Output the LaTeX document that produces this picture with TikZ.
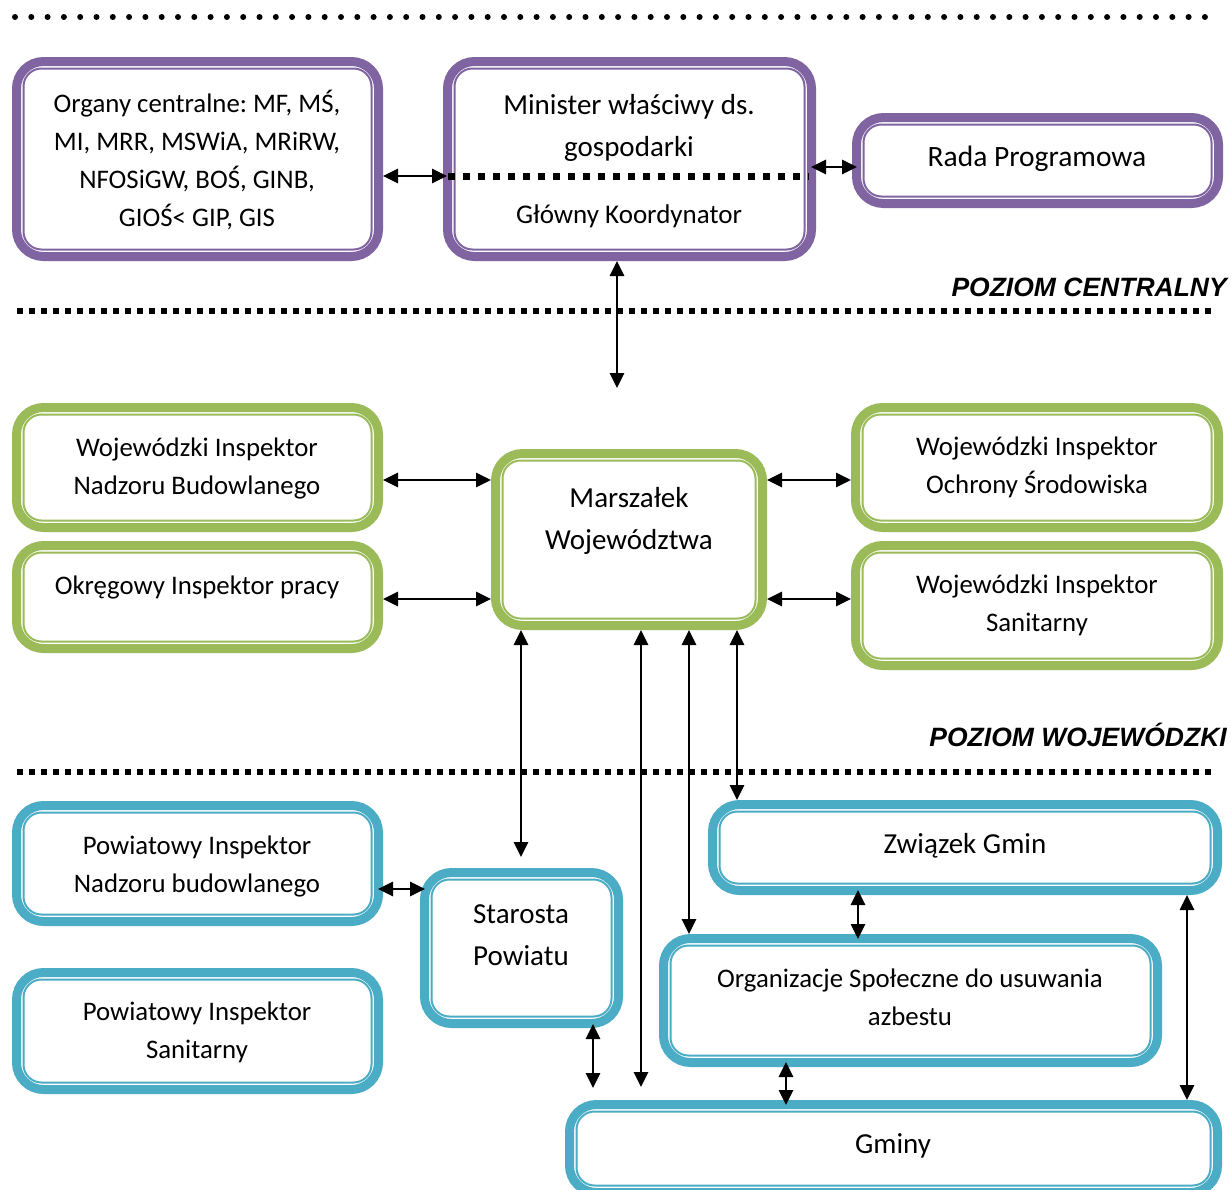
\documentclass[tikz,border=0pt]{standalone}
\usepackage{fontspec}
\setmainfont{Carlito}
\newfontfamily\hfont{Liberation Sans}
\usetikzlibrary{arrows.meta}
\definecolor{cpur}{HTML}{8064A2}
\definecolor{cgrn}{HTML}{9BBB59}
\definecolor{cblu}{HTML}{4BACC6}
\frenchspacing
\tikzset{
  bx/.style={draw=#1, line width=9pt, rounded corners=27pt, fill=white, outer sep=4.5pt, inner sep=0pt},
  inl/.style={draw=#1, line width=2pt, rounded corners=18pt},
  txt/.style={font=\fontsize{26.8}{38}\selectfont, align=center, inner sep=0pt},
  big/.style={font=\fontsize{29}{42}\selectfont, align=center, inner sep=0pt},
  lvl/.style={font=\hfont\bfseries\itshape\fontsize{26.5}{30}\selectfont, anchor=east, inner sep=0pt},
  arr/.style={line width=2.8pt, {Triangle[length=15pt,width=14pt]}-{Triangle[length=15pt,width=14pt]}},
  into/.style={shorten <=-5pt, shorten >=-5pt},
  sep/.style={line width=5.5pt, dash pattern=on 5.5pt off 6.5pt},
}
\newcommand\BX[6]{%
  \node[bx=#2, minimum width={#5-#3-9}, minimum height={#6-#4-9}] (#1) at ({(#3+#5)/2},{(#4+#6)/2}) {};
  \draw[inl=#2] ([shift={(11.5,11.5)}]#1.north west) rectangle ([shift={(-11.5,-11.5)}]#1.south east);
}
\begin{document}
\begin{tikzpicture}[x=1pt,y=-1pt]
\clip (0,0) rectangle (1231,1189);
\fill[white] (0,0) rectangle (1231,1189);
% separators
\draw[line width=6pt, line cap=round, dash pattern=on 0pt off 16.3pt] (15,17) -- (1216,17);
\draw[sep] (17,311) -- (1214,311);
\draw[sep] (17,772) -- (1214,772);
% boxes
\BX{org}{cpur}{12}{57}{383}{261}
\BX{min}{cpur}{443}{57}{816}{261}
\BX{rada}{cpur}{852}{113}{1223}{208}
\BX{winb}{cgrn}{12}{403}{383}{532}
\BX{oip}{cgrn}{12}{541}{383}{653}
\BX{marsz}{cgrn}{491}{449}{767}{630}
\BX{wios}{cgrn}{851}{403}{1223}{532}
\BX{wis}{cgrn}{851}{541}{1223}{670}
\BX{pinb}{cblu}{12}{801}{383}{926}
\BX{pis}{cblu}{12}{968}{383}{1094}
\BX{star}{cblu}{420}{868}{623}{1028}
\BX{zw}{cblu}{708}{800}{1222}{895}
\BX{orgsp}{cblu}{659}{934}{1162}{1067}
\BX{gminy}{cblu}{565}{1100}{1222}{1197}
% texts
\node[txt] (torg) at (197,160) {Organy centralne: MF, MŚ,\\MI, MRR, MSWiA, MRiRW,\\NFOSiGW, BOŚ, GINB,\\GIOŚ< GIP, GIS};
\node[big] (tmin) at (629,128) {Minister właściwy ds.\\gospodarki};
\node[txt, font=\fontsize{27}{30}\selectfont] (tgk) at (629,216) {Główny Koordynator};
\node[txt, font=\fontsize{29.5}{38}\selectfont] (trada) at (1037,159) {Rada Programowa};
\node[lvl] (lc) at (1227,287) {POZIOM CENTRALNY};
\node[txt] (twinb) at (197,468.5) {Wojewódzki Inspektor\\Nadzoru Budowlanego};
\node[txt] (toip) at (197,587) {Okręgowy Inspektor pracy};
\node[big] (tmarsz) at (629,521) {Marszałek\\Województwa};
\node[txt] (twios) at (1037,467.5) {Wojewódzki Inspektor\\Ochrony Środowiska};
\node[txt] (twis) at (1037,605.5) {Wojewódzki Inspektor\\Sanitarny};
\node[lvl] (lw) at (1227,735) {POZIOM WOJEWÓDZKI};
\node[txt] (tpinb) at (197,866) {Powiatowy Inspektor\\Nadzoru budowlanego};
\node[txt] (tpis) at (197,1032) {Powiatowy Inspektor\\Sanitarny};
\node[big] (tstar) at (521,935.5) {Starosta\\Powiatu};
\node[big] (tzw) at (965,846) {Związek Gmin};
\node[txt] (torgsp) at (910,997) {Organizacje Społeczne do usuwania\\azbestu};
\node[big] (tgm) at (893,1146) {Gminy};
% helper coordinates
\coordinate (h176) at (0,176);
\coordinate (h167) at (0,167);
\coordinate (h480) at (0,480);
\coordinate (h599) at (0,599);
\coordinate (h889) at (0,889);
% inner dotted line
\draw[line width=7pt, dash pattern=on 7pt off 8pt] ([xshift=5pt]min.west |- h176) -- ([xshift=-7pt]min.east |- h176);
% connectors
\draw[arr, shorten >=-4pt] (org.east |- h176) -- (min.west |- h176);
\draw[arr, into] (min.east |- h167) -- (rada.west |- h167);
\coordinate (p388) at (617,388);
\draw[arr] (p388 |- min.south) -- (p388);
\draw[arr] (winb.east |- h480) -- (marsz.west |- h480);
\draw[arr] (oip.east |- h599) -- (marsz.west |- h599);
\draw[arr] (marsz.east |- h480) -- (wios.west |- h480);
\draw[arr] (marsz.east |- h599) -- (wis.west |- h599);
\coordinate (v521) at (521,0);
\coordinate (v641) at (641,0);
\coordinate (v689) at (689,0);
\coordinate (v737) at (737,0);
\coordinate (v593) at (593,0);
\coordinate (v858) at (858,0);
\coordinate (v786) at (786,0);
\coordinate (v1187) at (1187,0);
\draw[arr, shorten >=11pt] (v521 |- marsz.south) -- (v521 |- star.north);
\draw[arr, shorten >=13pt] (v641 |- marsz.south) -- (v641 |- gminy.north);
\draw[arr] (v689 |- marsz.south) -- (v689 |- orgsp.north);
\draw[arr] (v737 |- marsz.south) -- (v737 |- zw.north);
\draw[arr, into] (pinb.east |- h889) -- (star.west |- h889);
\draw[arr, shorten <=-4pt, shorten >=12pt] (v593 |- star.south) -- (v593 |- gminy.north);
\draw[arr, into] (v858 |- zw.south) -- (v858 |- orgsp.north);
\draw[arr, into] (v786 |- orgsp.south) -- (v786 |- gminy.north);
\draw[arr] (v1187 |- zw.south) -- (v1187 |- gminy.north);
\end{tikzpicture}
\end{document}
